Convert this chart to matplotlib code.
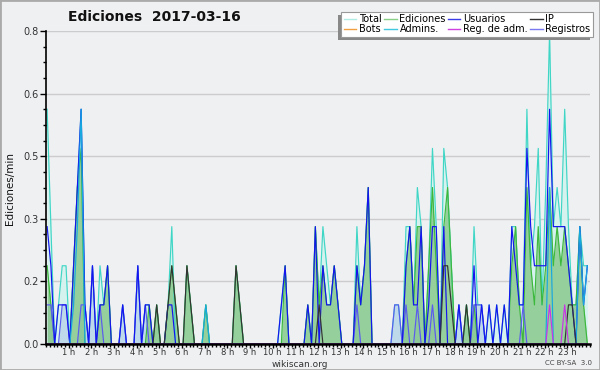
import numpy as np
import matplotlib
matplotlib.use("Agg")
import matplotlib.pyplot as plt
from matplotlib.lines import Line2D
from matplotlib.patches import Rectangle
from matplotlib.transforms import IdentityTransform

# edits per 10-minute bin (one row per hour, 6 bins each)
total = [6, 3, 0, 1, 2, 2,  0, 2, 4, 6, 1, 0,  2, 0, 2, 1, 2, 0,  0, 0, 1, 0, 0, 0,
         2, 0, 1, 1, 0, 1,  0, 0, 1, 3, 0, 0,  0, 2, 1, 0, 0, 0,  1, 0, 0, 0, 0, 0,
         0, 0, 2, 1, 0, 0,  0, 0, 0, 0, 0, 0,  0, 0, 1, 2, 0, 0,  0, 0, 0, 1, 0, 3,
         1, 3, 2, 1, 2, 1,  0, 0, 0, 0, 3, 1,  2, 4, 0, 0, 0, 0,  0, 0, 1, 1, 0, 3,
         3, 1, 4, 3, 0, 2,  5, 3, 0, 5, 4, 2,  0, 1, 0, 1, 0, 3,  1, 1, 0, 1, 0, 1,
         0, 1, 0, 3, 3, 1,  1, 6, 2, 3, 5, 1,  4, 8, 3, 4, 3, 6,  3, 1, 1, 3, 2, 2]
ediciones = [2, 1, 0, 0, 0, 0,  0, 2, 4, 5, 0, 0,  0, 0, 1, 1, 2, 0,  0, 0, 0, 0, 0, 0,
             0, 0, 0, 1, 0, 1,  0, 0, 1, 2, 1, 0,  0, 2, 1, 0, 0, 0,  1, 0, 0, 0, 0, 0,
             0, 0, 2, 1, 0, 0,  0, 0, 0, 0, 0, 0,  0, 0, 0, 2, 0, 0,  0, 0, 0, 1, 0, 3,
             1, 2, 1, 1, 2, 1,  0, 0, 0, 0, 2, 1,  2, 4, 0, 0, 0, 0,  0, 0, 0, 0, 0, 2,
             3, 1, 3, 3, 0, 2,  4, 2, 0, 3, 4, 2,  0, 0, 0, 1, 0, 1,  0, 0, 0, 0, 0, 0,
             0, 0, 0, 2, 3, 1,  0, 4, 2, 1, 3, 1,  2, 4, 2, 3, 2, 3,  2, 1, 1, 3, 1, 0]
usuarios = [3, 2, 0, 1, 1, 1,  0, 2, 4, 6, 1, 0,  2, 0, 1, 1, 2, 0,  0, 0, 1, 0, 0, 0,
            2, 0, 1, 1, 0, 0,  0, 0, 1, 1, 0, 0,  0, 0, 0, 0, 0, 0,  0, 0, 0, 0, 0, 0,
            0, 0, 0, 0, 0, 0,  0, 0, 0, 0, 0, 0,  0, 0, 1, 2, 0, 0,  0, 0, 0, 1, 0, 3,
            0, 2, 1, 1, 2, 1,  0, 0, 0, 0, 2, 1,  2, 4, 0, 0, 0, 0,  0, 0, 0, 0, 0, 2,
            3, 1, 1, 3, 0, 1,  3, 3, 0, 3, 0, 0,  0, 1, 0, 0, 0, 2,  0, 1, 0, 1, 0, 1,
            0, 1, 0, 3, 2, 1,  1, 5, 3, 2, 2, 2,  2, 6, 3, 3, 3, 3,  2, 1, 0, 3, 1, 2]
ip = [0, 0, 0, 0, 0, 0,  0, 0, 0, 0, 0, 0,  0, 0, 0, 0, 0, 0,  0, 0, 0, 0, 0, 0,
      0, 0, 0, 0, 0, 1,  0, 0, 1, 2, 1, 0,  0, 2, 1, 0, 0, 0,  0, 0, 0, 0, 0, 0,
      0, 0, 2, 1, 0, 0,  0, 0, 0, 0, 0, 0,  0, 0, 0, 0, 0, 0,  0, 0, 0, 0, 0, 0,
      1, 0, 0, 0, 0, 0,  0, 0, 0, 0, 0, 0,  0, 0, 0, 0, 0, 0,  0, 0, 0, 0, 0, 0,
      0, 0, 0, 0, 0, 0,  0, 0, 0, 2, 2, 1,  0, 0, 0, 1, 0, 0,  0, 0, 0, 0, 0, 0,
      0, 0, 0, 0, 0, 0,  0, 0, 0, 0, 0, 0,  0, 0, 0, 0, 0, 0,  1, 1, 0, 0, 0, 0]
admins = [0, 0, 0, 0, 0, 0,  0, 1, 3, 6, 0, 0,  0, 0, 0, 0, 0, 0,  0, 0, 0, 0, 0, 0,
          0, 0, 0, 0, 0, 0,  0, 0, 0, 0, 0, 0,  0, 0, 0, 0, 0, 0,  1, 0, 0, 0, 0, 0,
          0, 0, 0, 0, 0, 0,  0, 0, 0, 0, 0, 0,  0, 0, 0, 0, 0, 0,  0, 0, 0, 0, 0, 0,
          0, 0, 0, 0, 0, 0,  0, 0, 0, 0, 0, 0,  0, 0, 0, 0, 0, 0,  0, 0, 0, 0, 0, 0,
          0, 0, 0, 0, 0, 0,  0, 0, 0, 0, 0, 0,  0, 0, 0, 0, 0, 0,  0, 0, 0, 0, 0, 0,
          0, 0, 0, 0, 0, 0,  0, 0, 0, 0, 0, 0,  0, 4, 0, 0, 0, 0,  0, 0, 0, 3, 1, 2]
registros = [1, 1, 0, 0, 1, 1,  0, 0, 0, 1, 1, 0,  2, 0, 1, 0, 0, 0,  0, 0, 1, 0, 0, 0,
             2, 0, 1, 0, 0, 0,  0, 0, 0, 0, 0, 0,  0, 0, 0, 0, 0, 0,  0, 0, 0, 0, 0, 0,
             0, 0, 0, 0, 0, 0,  0, 0, 0, 0, 0, 0,  0, 0, 0, 0, 0, 0,  0, 0, 0, 0, 0, 0,
             0, 0, 0, 0, 0, 0,  0, 0, 0, 0, 1, 0,  0, 0, 0, 0, 0, 0,  0, 0, 1, 1, 0, 1,
             0, 0, 1, 0, 0, 0,  1, 0, 0, 0, 0, 0,  0, 1, 0, 0, 0, 1,  1, 1, 0, 0, 0, 0,
             0, 0, 0, 0, 0, 0,  1, 0, 0, 0, 0, 0,  0, 0, 0, 0, 0, 0,  0, 0, 0, 0, 0, 0]
reg_adm = [0] * 132 + [0, 1, 0, 0, 0, 1] + [0] * 6
bots = [0] * 144

hour_labels = [f"{h} h" for h in range(1, 24)]

x = (np.arange(144) + 0.3) / 6.0
per_min = lambda s: np.array(s) / 10.0

bg = "#eff0f2"
fig = plt.figure(figsize=(6, 3.7), dpi=100, facecolor=bg)
ax = fig.add_axes([46 / 600, 1 - 344 / 370, 544 / 600, 313 / 370])
ax.set_facecolor(bg)

T = per_min(total)
E = per_min(ediciones)
R = per_min(registros)
ax.fill_between(x, 0, T, color="#d6f2ee", lw=0, zorder=1)
ax.fill_between(x, 0, R, color="#bcd8ea", alpha=0.9, lw=0, zorder=2)
ax.fill_between(x, 0, E, color="#7fc47f", alpha=0.75, lw=0, zorder=3)

lw = 0.85
ax.plot(x, T, color="#3fd6c6", lw=lw, zorder=4)
ax.plot(x, E, color="#3cb83c", lw=lw, zorder=5)
ax.plot(x, R, color="#5a5af0", lw=lw, zorder=6)
ax.plot(x, per_min(usuarios), color="#1414ee", lw=lw, zorder=7)
ax.plot(x, per_min(admins), color="#18a8e0", lw=lw, zorder=8)
ax.plot(x, per_min(ip), color="#333333", lw=lw, zorder=9)
ax.plot(x, per_min(reg_adm), color="#cc33e8", lw=lw, zorder=10)
ax.plot(x, per_min(bots), color="#f0a040", lw=lw, zorder=0)

ax.set_xlim(0, 24)
ax.set_ylim(0, 0.8)

yt = np.arange(6) * 0.16
ax.set_yticks(yt)
ax.set_yticklabels([f"{v:.1f}" for v in yt])
ax.set_yticks(np.arange(0, 0.81, 0.04), minor=True)
ax.set_xticks(range(1, 24))
ax.set_xticklabels(hour_labels)
ax.set_xticks(np.arange(0, 24.01, 1 / 6), minor=True)
ax.grid(axis="y", which="major", color="#cccccc", lw=1.0, zorder=0)
ax.set_axisbelow(True)

for s in ["top", "right"]:
    ax.spines[s].set_visible(False)
ax.spines["left"].set_linewidth(1.2)
ax.spines["bottom"].set_linewidth(1.8)
ax.spines["left"].set_zorder(20)
ax.spines["bottom"].set_zorder(20)
ax.tick_params(axis="y", which="major", direction="out", length=4, width=1,
               labelcolor="#333333", labelsize=7, pad=1)
ax.tick_params(axis="x", which="major", direction="out", length=3, width=1,
               labelcolor="#333333", labelsize=6, pad=0)
ax.tick_params(axis="both", which="minor", direction="out", length=2.5, width=1)

fig.text(0.257, 0.954, "Ediciones  2017-03-16", fontsize=10, fontweight="bold",
         ha="center", va="center", color="#111111")
fig.text(0.016, 0.49, "Ediciones/min", rotation=90, fontsize=7.5,
         ha="center", va="center", color="#111111")
fig.text(0.5, 0.016, "wikiscan.org", fontsize=6.5, ha="center", va="center", color="#333333")
fig.text(0.948, 0.018, "CC BY-SA  3.0", fontsize=5, ha="center", va="center", color="#444444")

names = ["Total", "Bots", "Ediciones", "Admins.", "Usuarios", "Reg. de adm.", "IP", "Registros"]
cols = ["#b0ebe4", "#f0a040", "#88d088", "#40c8e0", "#3a3ae8", "#d040e0", "#333333", "#7a7af0"]
handles = [Line2D([], [], color=c, lw=1.0) for c in cols]
leg = ax.legend(handles, names, ncol=4, loc="upper right",
                bbox_to_anchor=(593 / 600, 1 - 12 / 370), bbox_transform=fig.transFigure,
                fontsize=7, frameon=True, fancybox=False, framealpha=1,
                edgecolor="#999999", facecolor="white", handlelength=1.3,
                handletextpad=0.3, columnspacing=0.2, labelspacing=0.0,
                borderpad=0.25, borderaxespad=0)
leg.set_zorder(30)
leg.get_frame().set_linewidth(0.8)

fig.canvas.draw()
bb = leg.get_window_extent()
shadow = Rectangle((bb.x0 - 3, bb.y0 - 3), bb.width, bb.height,
                   transform=IdentityTransform(), facecolor="#888888",
                   edgecolor="none", zorder=29, clip_on=False)
ax.add_artist(shadow)

fig.patches.append(Rectangle((0, 0), 1, 1, transform=fig.transFigure, fill=False,
                             edgecolor="#aaaaaa", lw=2))

fig.savefig("out.png", dpi=100, facecolor=bg)
